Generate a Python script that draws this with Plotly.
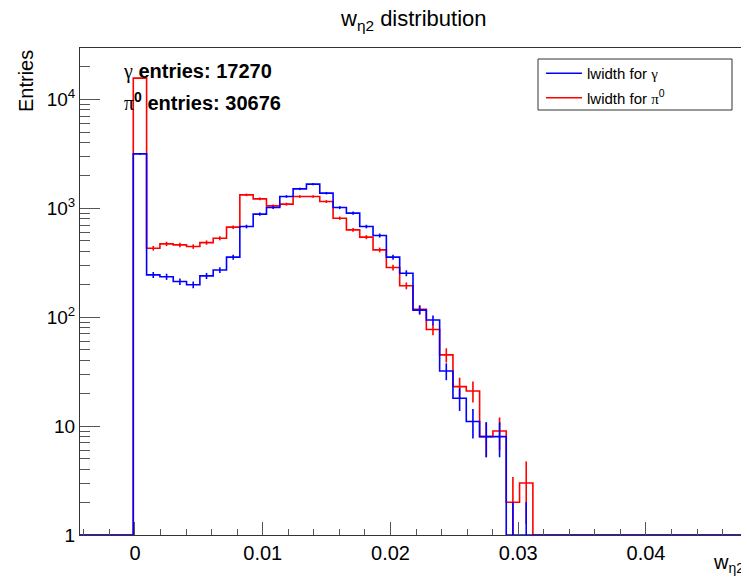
import numpy as np
import plotly.graph_objects as go

# ---------------- data ----------------
X_LOW, X_HIGH, N_BINS = -0.004305, 0.04783, 50

# counts per bin (50 bins)
gamma_counts = [0, 0, 0, 0, 3150, 244, 235, 212, 198, 239,
                271, 355, 678, 881, 1013, 1279, 1503, 1660, 1373, 1013,
                900, 678, 561, 355, 253, 116, 94, 32, 18, 11,
                8, 8, 1, 1, 0, 0, 0, 0, 0, 0,
                0, 0, 0, 0, 0, 0, 0, 0, 0, 0]
pi0_counts = [0, 0, 0, 0, 15600, 429, 470, 460, 444, 483,
              530, 669, 1324, 1217, 1050, 1088, 1279, 1279, 1150, 809,
              632, 542, 414, 285, 194, 118, 77, 45, 23, 21,
              8, 9, 2, 3, 0, 0, 0, 0, 0, 0,
              0, 0, 0, 0, 0, 0, 0, 0, 0, 0]

gamma_entries = 17270
pi0_entries = 30676

y_tick_vals = [1, 10, 100, 1000, 10000]
y_tick_text = ["1", "10", "10<sup>2</sup>", "10<sup>3</sup>", "10<sup>4</sup>"]
y_minor_digits = [2, 3, 4, 5, 6, 7, 8, 9]
Y_LOG_MAX = 4.47

# ---------------- layout geometry ----------------
OFF = 8                      # page body margin
W, H = 749 - OFF, 580 - OFF
L, T = 80 - OFF, 48 - OFF
PW, PH = 666, 487
R = W - L - PW
B = H - T - PH

def px(x):
    return (x - OFF - L) / PW

def py(y):
    return (T + PH - (y - OFF)) / PH

FONT = "Liberation Sans, Arial, Helvetica, sans-serif"
SERIF = "Liberation Serif, Times New Roman, serif"
BLUE = "#0000ff"
RED = "#ff0000"
YMIN = 1.0

edges = np.linspace(X_LOW, X_HIGH, N_BINS + 1)
centers = 0.5 * (edges[:-1] + edges[1:])


def step_trace(counts, color, name, rank):
    c = np.asarray(counts, dtype=float)
    yd = np.maximum(c, YMIN)
    yy = np.append(yd, yd[-1])
    return go.Scatter(x=edges, y=yy, mode="lines", line=dict(color=color, width=1.6, shape="hv"),
                      name=name, legendrank=rank, legendgroup=name, hoverinfo="skip")


def err_trace(counts, color):
    c = np.asarray(counts, dtype=float)
    m = c > 0
    e = np.sqrt(c[m])
    em = np.minimum(e, c[m] - 0.5)
    return go.Scatter(x=centers[m], y=c[m], mode="markers", marker=dict(size=0.1, color=color, opacity=0),
                      error_y=dict(type="data", symmetric=False, array=e, arrayminus=em,
                                   color=color, thickness=1.6, width=0),
                      showlegend=False, hoverinfo="skip", cliponaxis=True)


fig = go.Figure()
fig.add_trace(step_trace(pi0_counts, RED, f"lwidth for <span style='font-family:{SERIF}'>π</span><sup>0</sup>", 2))
fig.add_trace(err_trace(pi0_counts, RED))
fig.add_trace(step_trace(gamma_counts, BLUE, f"lwidth for <span style='font-family:{SERIF}'>γ</span>", 1))
fig.add_trace(err_trace(gamma_counts, BLUE))

minor_vals = [d * 10 ** k for k in range(0, 5) for d in y_minor_digits if d * 10 ** k < 10 ** Y_LOG_MAX]

fig.update_layout(
    width=W, height=H,
    margin=dict(l=L, r=R, t=T, b=B, autoexpand=False),
    paper_bgcolor="white", plot_bgcolor="white",
    font=dict(family=FONT, size=20, color="black"),
    showlegend=True,
    legend=dict(x=px(541), y=py(57), xanchor="left", yanchor="top",
                bgcolor="rgba(0,0,0,0)", borderwidth=0,
                font=dict(family=FONT, size=15, color="black"),
                traceorder="grouped", tracegroupgap=2, itemwidth=36),
    xaxis=dict(range=[X_LOW, X_HIGH], showgrid=False, zeroline=False, automargin=False,
               showline=True, linecolor="#333", linewidth=1, mirror=True,
               ticks="inside", ticklen=13, tickwidth=1, tickcolor="#555",
               tick0=0, dtick=0.01, tickfont=dict(size=20),
               minor=dict(ticks="inside", ticklen=6, tickwidth=1, tickcolor="#555", dtick=0.002, tick0=0)),
    yaxis=dict(type="log", range=[0, Y_LOG_MAX], showgrid=False, zeroline=False, automargin=False,
               showline=True, linecolor="#333", linewidth=1, mirror=True,
               ticks="inside", ticklen=20, tickwidth=1, tickcolor="#555",
               tickmode="array", tickvals=y_tick_vals, ticktext=y_tick_text,
               tickfont=dict(size=19),
               minor=dict(ticks="inside", ticklen=10, tickwidth=1, tickcolor="#555",
                          tickmode="array", tickvals=minor_vals)),
)

# legend box
fig.add_shape(type="rect", xref="paper", yref="paper",
              x0=px(538), x1=px(732), y0=py(110), y1=py(59),
              line=dict(color="#333", width=1), fillcolor="rgba(0,0,0,0)", layer="above")

ann = []
ann.append(dict(text="w<sub>η2</sub> distribution", x=px(413), y=py(20), xanchor="center", yanchor="middle",
                font=dict(size=22)))
ann.append(dict(text="Entries", x=px(26), y=1.0, xanchor="center", yanchor="top", textangle=-90,
                font=dict(size=20)))
ann.append(dict(text="w<sub>η2</sub>", x=px(746), y=py(563), xanchor="right", yanchor="middle",
                font=dict(size=20)))
ann.append(dict(text=f"<span style='font-family:{SERIF}'>γ</span> <b>entries: {gamma_entries}</b>",
                x=px(121), y=py(72), xanchor="left", yanchor="middle", font=dict(size=20)))
ann.append(dict(text=f"<span style='font-family:{SERIF}'>π</span><b><sup>0</sup> entries: {pi0_entries}</b>",
                x=px(122), y=py(101), xanchor="left", yanchor="middle", font=dict(size=20)))
for a in ann:
    a.update(xref="paper", yref="paper", showarrow=False)
fig.update_layout(annotations=ann)

fig.write_html("out.html")
